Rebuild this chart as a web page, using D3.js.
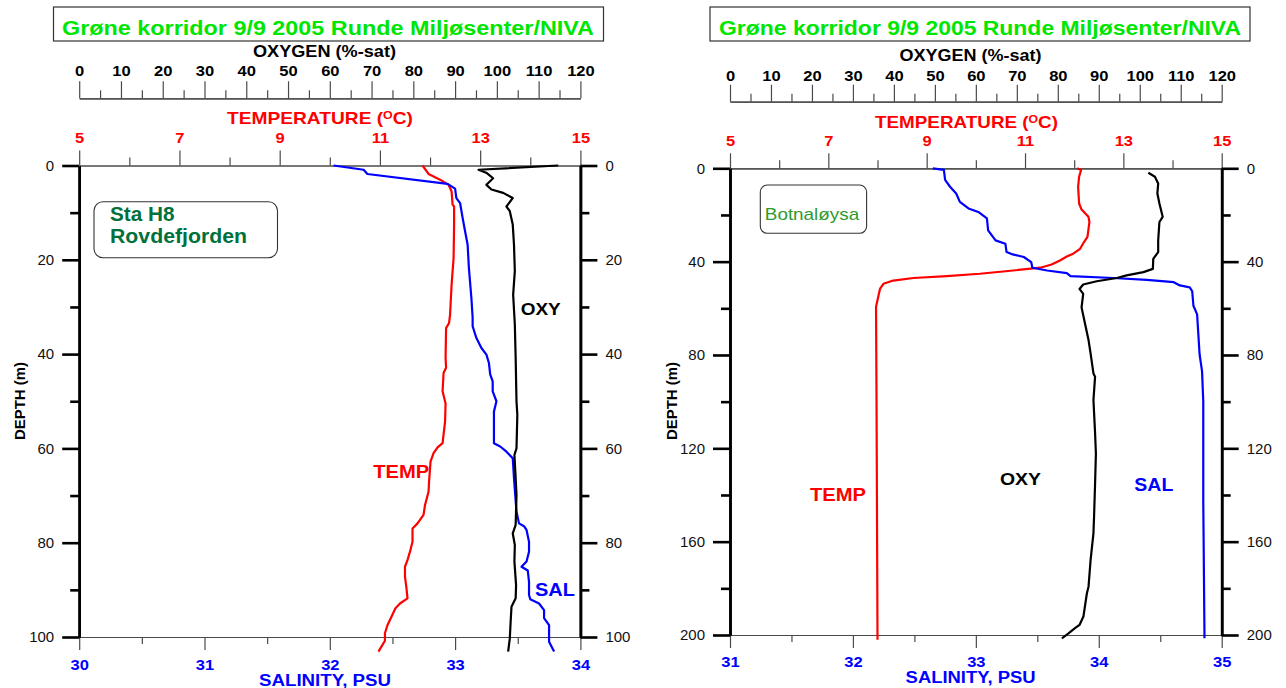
<!DOCTYPE html>
<html><head><meta charset="utf-8">
<script src="https://cdn.jsdelivr.net/npm/d3@7"></script>
<style>
body{margin:0;background:#fff}
svg{display:block}
text{font-family:"Liberation Sans",Arial,Helvetica,sans-serif}
</style>
</head><body>
<svg id="c" width="1286" height="688"></svg>
<script>
// ---------------- DATA ----------------
const titleText = "Grøne korridor 9/9 2005 Runde Miljøsenter/NIVA";
const oxygenTitle = "OXYGEN (%-sat)";
const salinityTitle = "SALINITY, PSU";
const depthTitle = "DEPTH (m)";
const oxygenTicks = [0,10,20,30,40,50,60,70,80,90,100,110,120];
const temperatureTicks = [5,7,9,11,13,15];
const h8SalinityTicks = [30,31,32,33,34];
const botnSalinityTicks = [31,32,33,34,35];
const h8DepthTicks = [0,20,40,60,80,100];
const botnDepthTicks = [0,40,80,120,160,200];
const h8StationLabel = ["Sta H8","Rovdefjorden"];
const botnStationLabel = ["Botnaløysa"];
const curveLabels = ["OXY","TEMP","SAL"];

// [depth (m), value]
const h8Salinity = [[0,32.03],[0.9,32.27],[1.8,32.30],[3.9,32.94],[4.9,33.00],[6.9,33.01],[8.0,33.04],[11.1,33.06],[14.0,33.08],[16.8,33.10],[21.7,33.11],[28.1,33.13],[32.3,33.14],[34.1,33.14],[36.6,33.17],[38.7,33.21],[40.1,33.25],[41.9,33.27],[44.3,33.28],[45.8,33.30],[47.9,33.30],[50.0,33.33],[52.2,33.31],[54.0,33.31],[58.9,33.31],[59.6,33.36],[60.7,33.41],[62.1,33.46],[66.3,33.47],[69.9,33.48],[73.4,33.49],[75.9,33.51],[76.5,33.55],[77.3,33.57],[79.8,33.59],[81.9,33.59],[84.0,33.57],[85.1,33.53],[85.9,33.58],[88.3,33.59],[91.1,33.59],[92.0,33.60],[92.9,33.67],[94.3,33.71],[96.0,33.71],[97.5,33.75],[101.0,33.75],[103.1,33.79]];
const h8Temperature = [[0,11.85],[1.8,11.97],[3.0,12.20],[4.1,12.37],[5.5,12.43],[8.3,12.45],[8.7,12.48],[12.5,12.48],[19.6,12.47],[25.3,12.43],[31.6,12.40],[33.4,12.38],[34.5,12.32],[40.8,12.31],[42.9,12.32],[44.0,12.27],[47.9,12.25],[50.5,12.31],[54.3,12.30],[58.9,12.25],[59.8,12.15],[61.0,12.07],[62.8,12.01],[67.1,11.98],[69.2,11.97],[72.0,11.90],[74.1,11.87],[75.9,11.75],[77.0,11.65],[79.8,11.65],[81.9,11.60],[83.7,11.55],[85.1,11.50],[87.2,11.50],[89.7,11.53],[91.8,11.55],[92.9,11.40],[93.9,11.31],[95.7,11.23],[97.5,11.15],[99.2,11.10],[100.8,11.10],[103.1,10.97]];
const h8Oxygen = [[0,114.7],[0.9,95.6],[1.6,97.6],[2.7,99.1],[4.1,97.5],[5.1,98.7],[5.8,101.5],[6.9,103.8],[8.7,102.3],[9.7,103.1],[12.5,103.8],[16.8,104.1],[22.4,104.3],[27.4,103.9],[33.7,104.3],[40.8,104.5],[50.0,104.7],[52.9,104.9],[60.0,104.7],[61.4,104.2],[66.3,104.5],[69.9,104.7],[76.2,104.5],[78.0,103.8],[80.5,104.3],[84.0,104.2],[89.0,104.6],[91.8,104.5],[93.6,103.5],[96.7,103.3],[100.3,103.1],[103.1,102.7]];

const botnSalinity = [[0,32.65],[0.7,32.74],[5.0,32.75],[7.9,32.79],[10.8,32.84],[14.4,32.87],[17.2,32.94],[18.7,33.02],[21.5,33.09],[26.6,33.10],[30.9,33.16],[32.3,33.24],[35.9,33.25],[36.9,33.30],[38.0,33.39],[40.2,33.45],[42.6,33.46],[43.8,33.58],[44.9,33.74],[46.2,33.77],[47.0,34.12],[47.8,34.39],[48.8,34.61],[50.2,34.66],[51.0,34.74],[52.7,34.76],[58.9,34.77],[62.6,34.80],[71.1,34.81],[79.7,34.82],[86.9,34.84],[99.7,34.85],[121,34.85],[142,34.85],[201.4,34.86]];
const botnTemperature = [[0,12.06],[0.7,12.14],[3.6,12.10],[7.9,12.08],[15.1,12.10],[17.7,12.15],[20.8,12.29],[23.0,12.31],[29.4,12.27],[31.6,12.20],[34.5,12.12],[36.6,11.98],[37.8,11.85],[39.5,11.71],[41.2,11.54],[42.6,11.31],[43.8,10.76],[45.2,10.08],[46.2,9.41],[47.0,8.73],[48.1,8.32],[49.5,8.12],[51.7,8.05],[59.3,7.97],[99.7,7.98],[202,8.00]];
const botnOxygen = [[1.9,102.1],[3.6,103.7],[6.5,104.5],[10.8,104.3],[15.1,104.8],[20.8,105.6],[23.0,104.8],[30.9,104.5],[35.9,104.5],[38.8,103.3],[43.1,103.2],[44.5,100.9],[45.9,96.8],[47.0,94.4],[48.4,89.5],[49.8,86.2],[51.7,85.3],[53.8,86.2],[59.6,85.8],[64.6,86.4],[73.6,87.5],[79.3,88.0],[87.9,88.7],[89.3,89.1],[99.3,88.7],[113.6,89.1],[122.2,89.3],[135,89.1],[149.3,88.85],[156.4,88.7],[167.9,88.0],[179.3,87.5],[182.1,87.1],[192.1,86.25],[195.7,85.3],[197.1,84.2],[199.3,82.6],[201.4,81.0]];

// ---------------- LAYOUT ----------------
const RED="#ff0000", BLUE="#0000ff", BLACK="#000000", GREY="#4a4a4a";
const panels = [
 {x0:79.2,x1:580.4,yTop:165.5,yBot:637,depthMax:100,depthMinorStep:10,depthTicks:h8DepthTicks,salTicks:h8SalinityTicks,
  sal:h8Salinity,temp:h8Temperature,oxy:h8Oxygen,
  box:{x:53.5,y:7,w:550,h:34},titleX:328,titleY:35,titleLen:532,
  oxyY:98.3,oxyTitleX:324.5,oxyTitleY:56.7,oxyTitleLen:143,oxyPad:5,
  tempTitleX:320,tempTitleY:124,tempTitleLen:186,tempPad:8,
  salPad:9.5,salTitleX:325,salTitleY:686,salTitleLen:132,
  depthTitleX:24.5,depthTitleY:401,
  station:{lines:h8StationLabel,x:94,y:201.7,w:183.5,h:56,rx:9,tx:110,ty:[221,242.7],lens:[64.5,137],size:20,weight:"bold",color:"#00703c"},
  labels:{oxy:[520.7,314.7,40],temp:[373.3,478.3,56],sal:[535,595.7,40]}},
 {x0:730,x1:1221.7,yTop:168.3,yBot:635,depthMax:200,depthMinorStep:20,depthTicks:botnDepthTicks,salTicks:botnSalinityTicks,
  sal:botnSalinity,temp:botnTemperature,oxy:botnOxygen,
  box:{x:710,y:7,w:540,h:34},titleX:980,titleY:35,titleLen:522,
  oxyY:101.7,oxyTitleX:970.5,oxyTitleY:61,oxyTitleLen:142,oxyPad:4,
  tempTitleX:966.5,tempTitleY:128.3,tempTitleLen:183,tempPad:7,
  salPad:8.5,salTitleX:970.6,salTitleY:683,salTitleLen:130,
  depthTitleX:677,depthTitleY:401,
  station:{lines:botnStationLabel,x:760.3,y:185,w:106.3,h:48.3,rx:7,tx:764.8,ty:[220],lens:[94.4],size:17,weight:"normal",color:"#2e9a2e"},
  labels:{oxy:[1000,485,41],temp:[810,500.7,56],sal:[1134.3,490.7,39]}}
];

const svg = d3.select("#c");

function stretch(sel, f){
  sel.each(function(){
    const w = this.getComputedTextLength();
    this.setAttribute("textLength", (w*f).toFixed(2));
    this.setAttribute("lengthAdjust","spacingAndGlyphs");
  });
}
function fixLen(sel, len){
  sel.attr("textLength", len).attr("lengthAdjust","spacingAndGlyphs");
}

panels.forEach(p => {
  const g = svg.append("g");
  const y = d3.scaleLinear().domain([0,p.depthMax]).range([p.yTop,p.yBot]);
  const xSal = d3.scaleLinear().domain([p.salTicks[0], p.salTicks[p.salTicks.length-1]]).range([p.x0,p.x1]);
  const xTemp = d3.scaleLinear().domain([5,15]).range([p.x0,p.x1]);
  const xOxy = d3.scaleLinear().domain([0,120]).range([p.x0,p.x1]);

  // Title box
  g.append("rect").attr("x",p.box.x).attr("y",p.box.y).attr("width",p.box.w).attr("height",p.box.h)
    .attr("fill","#fff").attr("stroke","#333").attr("stroke-width",1.2);
  g.append("text").attr("x",p.titleX).attr("y",p.titleY).attr("text-anchor","middle")
    .attr("font-size",20).attr("font-weight","bold").attr("fill","#00e600").text(titleText)
    .call(fixLen,p.titleLen);

  // Oxygen axis (top)
  const oxyMinor = d3.axisTop(xOxy).tickValues(d3.range(5,120,10)).tickSize(8).tickSizeOuter(0).tickFormat("");
  const oxyMajor = d3.axisTop(xOxy).tickValues(oxygenTicks).tickSize(17).tickSizeOuter(0).tickPadding(p.oxyPad).tickFormat(d3.format("d"));
  const go1 = g.append("g").attr("transform",`translate(0,${p.oxyY})`).call(oxyMinor);
  const go2 = g.append("g").attr("transform",`translate(0,${p.oxyY})`).call(oxyMajor);
  [go1,go2].forEach(a=>{a.selectAll("path,line").attr("stroke",GREY).attr("stroke-width",1.2);});
  go2.selectAll("text").attr("font-size",15).attr("font-weight","bold").attr("fill",BLACK).call(stretch,1.1);
  g.append("text").attr("x",p.oxyTitleX).attr("y",p.oxyTitleY).attr("text-anchor","middle")
    .attr("font-size",16).attr("font-weight","bold").attr("fill",BLACK).text(oxygenTitle).call(fixLen,p.oxyTitleLen);

  // Temperature axis (top of plot)
  const tMinor = d3.axisTop(xTemp).tickValues([6,8,10,12,14]).tickSize(8).tickSizeOuter(0).tickFormat("");
  const tMajor = d3.axisTop(xTemp).tickValues(temperatureTicks).tickSize(15).tickSizeOuter(0).tickPadding(p.tempPad).tickFormat(d3.format("d"));
  const gt1 = g.append("g").attr("transform",`translate(0,${p.yTop})`).call(tMinor);
  const gt2 = g.append("g").attr("transform",`translate(0,${p.yTop})`).call(tMajor);
  [gt1,gt2].forEach(a=>{a.selectAll("path,line").attr("stroke",GREY).attr("stroke-width",1.2);});
  gt2.selectAll("text").attr("font-size",15).attr("font-weight","bold").attr("fill",RED).call(stretch,1.1);
  const tt = g.append("text").attr("x",p.tempTitleX).attr("y",p.tempTitleY).attr("text-anchor","middle")
    .attr("font-size",17).attr("font-weight","bold").attr("fill",RED);
  tt.append("tspan").text("TEMPERATURE (");
  tt.append("tspan").attr("font-size",11).attr("dy",-5.5).text("O");
  tt.append("tspan").attr("dy",5.5).text("C)");
  fixLen(tt,p.tempTitleLen);

  // Salinity axis (bottom)
  const s0 = p.salTicks[0], s1 = p.salTicks[p.salTicks.length-1];
  const sMinor = d3.axisBottom(xSal).tickValues(d3.range(s0+0.5,s1,1)).tickSize(7).tickSizeOuter(0).tickFormat("");
  const sMajor = d3.axisBottom(xSal).tickValues(p.salTicks).tickSize(13).tickSizeOuter(0).tickPadding(p.salPad).tickFormat(d3.format("d"));
  const gs1 = g.append("g").attr("transform",`translate(0,${p.yBot})`).call(sMinor);
  const gs2 = g.append("g").attr("transform",`translate(0,${p.yBot})`).call(sMajor);
  [gs1,gs2].forEach(a=>{a.selectAll("path,line").attr("stroke",GREY).attr("stroke-width",1.2);});
  gs2.selectAll("text").attr("font-size",15).attr("font-weight","bold").attr("fill",BLUE).call(stretch,1.1);
  g.append("text").attr("x",p.salTitleX).attr("y",p.salTitleY).attr("text-anchor","middle")
    .attr("font-size",16).attr("font-weight","bold").attr("fill",BLUE).text(salinityTitle).call(fixLen,p.salTitleLen);

  // Depth axes (left & right)
  const minorDepth = d3.range(p.depthMinorStep, p.depthMax, p.depthMinorStep*2);
  const dLminor = d3.axisLeft(y).tickValues(minorDepth).tickSize(9).tickSizeOuter(0).tickFormat("");
  const dLmajor = d3.axisLeft(y).tickValues(p.depthTicks).tickSize(17).tickSizeOuter(0).tickPadding(8).tickFormat(d3.format("d"));
  const dRminor = d3.axisRight(y).tickValues(minorDepth).tickSize(9).tickSizeOuter(0).tickFormat("");
  const dRmajor = d3.axisRight(y).tickValues(p.depthTicks).tickSize(17).tickSizeOuter(0).tickPadding(8).tickFormat(d3.format("d"));
  const gl1 = g.append("g").attr("transform",`translate(${p.x0},0)`).call(dLminor);
  const gl2 = g.append("g").attr("transform",`translate(${p.x0},0)`).call(dLmajor);
  const gr1 = g.append("g").attr("transform",`translate(${p.x1},0)`).call(dRminor);
  const gr2 = g.append("g").attr("transform",`translate(${p.x1},0)`).call(dRmajor);
  [gl1,gl2,gr1,gr2].forEach(a=>{a.selectAll("path,line").attr("stroke",BLACK).attr("stroke-width",2.6);});
  [gl2,gr2].forEach(a=>a.selectAll("text").attr("font-size",15).attr("fill","#111"));
  g.append("text").attr("transform",`translate(${p.depthTitleX},${p.depthTitleY}) rotate(-90)`)
    .attr("text-anchor","middle").attr("font-size",14).attr("font-weight","bold").attr("fill",BLACK)
    .text(depthTitle).call(fixLen,78);

  // Station box
  const st = p.station;
  g.append("rect").attr("x",st.x).attr("y",st.y).attr("width",st.w).attr("height",st.h).attr("rx",st.rx)
    .attr("fill","#fff").attr("stroke","#333").attr("stroke-width",1.1);
  st.lines.forEach((t,i)=>{
    g.append("text").attr("x",st.tx).attr("y",st.ty[i]).attr("font-size",st.size).attr("font-weight",st.weight)
      .attr("fill",st.color).text(t).call(fixLen,st.lens[i]);
  });

  // Curves
  const mk = xs => d3.line().x(d=>xs(d[1])).y(d=>y(d[0]));
  g.append("path").datum(p.temp).attr("d",mk(xTemp)).attr("fill","none").attr("stroke",RED).attr("stroke-width",2.2).attr("stroke-linejoin","round");
  g.append("path").datum(p.sal).attr("d",mk(xSal)).attr("fill","none").attr("stroke",BLUE).attr("stroke-width",2.2).attr("stroke-linejoin","round");
  g.append("path").datum(p.oxy).attr("d",mk(xOxy)).attr("fill","none").attr("stroke",BLACK).attr("stroke-width",2.2).attr("stroke-linejoin","round");

  // Curve labels
  const L = p.labels;
  [[curveLabels[0],L.oxy,BLACK,17],[curveLabels[1],L.temp,RED,18],[curveLabels[2],L.sal,BLUE,18]].forEach(([t,pos,c,fs])=>{
    g.append("text").attr("x",pos[0]).attr("y",pos[1]).attr("font-size",fs).attr("font-weight","bold")
      .attr("fill",c).text(t).call(fixLen,pos[2]);
  });
});
</script>
</body></html>
